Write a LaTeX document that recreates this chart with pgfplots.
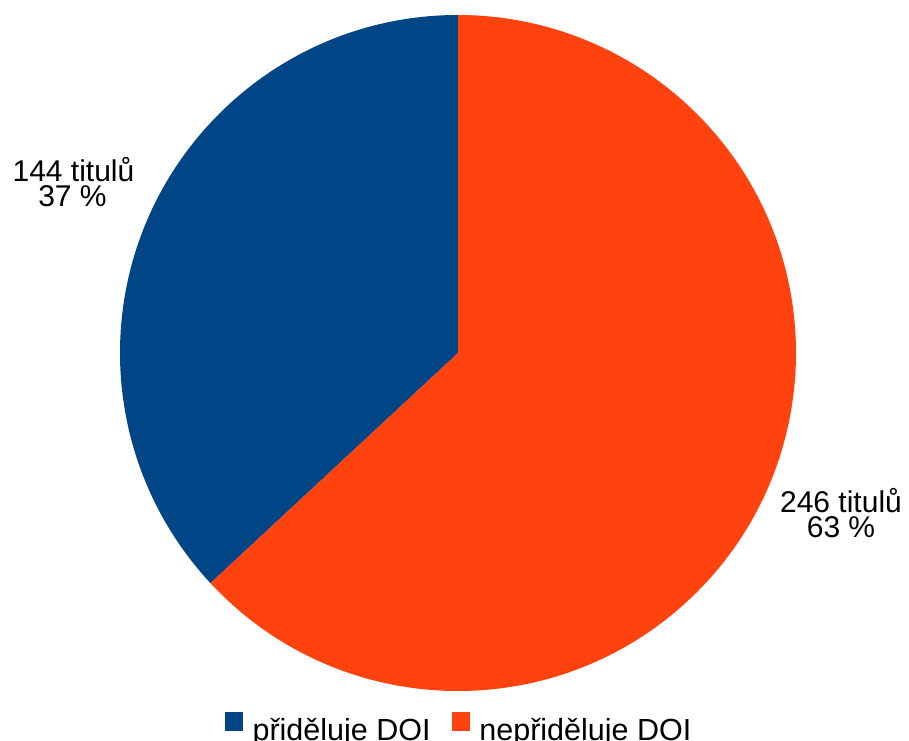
\documentclass[border=0pt]{standalone}
\usepackage{fontspec}
\setmainfont{Liberation Sans}
\usepackage{pgfplots}
\pgfplotsset{compat=1.18}
\definecolor{doiblue}{HTML}{004586}
\definecolor{doiorange}{HTML}{FF420E}

% data: number of titles
\def\yes{144}
\def\no{246}

\begin{document}
\begin{tikzpicture}
\useasboundingbox (0,0) rectangle (909pt,740pt);
\pgfmathsetmacro{\total}{\yes+\no}
\pgfmathsetmacro{\splitangle}{90+360*(\yes/\total)}
\begin{axis}[
    at={(0,0)}, anchor=south west,
    scale only axis,
    width=909pt, height=740pt,
    xmin=0, xmax=909, ymin=0, ymax=740,
    hide axis,
    clip=false,
    legend columns=-1,
    legend style={
        at={(axis cs:458,-2)}, anchor=south,
        draw=none, fill=none, inner sep=0pt,
        font=\fontsize{30.5}{34}\selectfont,
        nodes={inner sep=0pt},
        /tikz/every odd column/.append style={column sep=10pt},
        /tikz/every even column/.append style={column sep=21pt},
    },
]
\fill[doiblue] (axis cs:458,387) -- ++(90:338pt)
    arc[start angle=90, end angle=\splitangle, radius=338pt] -- cycle;
\fill[doiorange] (axis cs:458,387) -- ++(\splitangle:338pt)
    arc[start angle=\splitangle, end angle=450, radius=338pt] -- cycle;

\addlegendimage{legend image code/.code={\fill[doiblue] (0pt,0pt) rectangle (17.5pt,17.5pt);}}
\addlegendentry{přiděluje DOI}
\addlegendimage{legend image code/.code={\fill[doiorange] (0pt,0pt) rectangle (17.5pt,17.5pt);}}
\addlegendentry{nepřiděluje DOI}

\node[anchor=base, font=\fontsize{30}{25}\selectfont] at (axis cs:73.5,558) {\yes{} titulů};
\node[anchor=base, font=\fontsize{30}{25}\selectfont] at (axis cs:72.5,533) {37 \%};
\node[anchor=base, font=\fontsize{30}{25}\selectfont] at (axis cs:841,228) {\no{} titulů};
\node[anchor=base, font=\fontsize{30}{25}\selectfont] at (axis cs:841,203) {63 \%};
\end{axis}
\end{tikzpicture}
\end{document}
